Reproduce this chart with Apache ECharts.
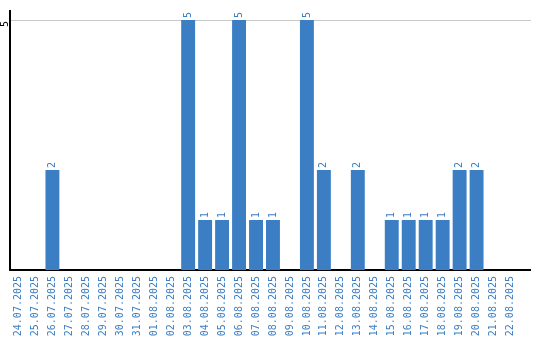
<!DOCTYPE html>
<html><head><meta charset="utf-8">
<script src="https://cdn.jsdelivr.net/npm/echarts@6/dist/echarts.min.js"></script>
<style>html,body{margin:0;padding:0;background:#fff}#c{width:540px;height:340px}</style>
</head><body><div id="c"></div>
<script>
const categories = ["24.07.2025","25.07.2025","26.07.2025","27.07.2025","28.07.2025","29.07.2025","30.07.2025","31.07.2025","01.08.2025","02.08.2025","03.08.2025","04.08.2025","05.08.2025","06.08.2025","07.08.2025","08.08.2025","09.08.2025","10.08.2025","11.08.2025","12.08.2025","13.08.2025","14.08.2025","15.08.2025","16.08.2025","17.08.2025","18.08.2025","19.08.2025","20.08.2025","21.08.2025","22.08.2025"];
const values = [0,0,2,0,0,0,0,0,0,0,5,1,1,5,1,1,0,5,2,0,2,0,1,1,1,1,2,2,0,0];
const yTicks = [0,5];

const blue = '#3b7ec4';
const chart = echarts.init(document.getElementById('c'));
chart.setOption({
  animation:false,
  grid:{left:9,top:20,width:510,height:250,containLabel:false},
  xAxis:{type:'category',data:categories,
    axisLine:{lineStyle:{color:'#000',width:2}},
    axisTick:{show:false},
    axisLabel:{rotate:90,interval:0,color:blue,fontFamily:'DejaVu Sans Mono',fontSize:10,margin:6}},
  yAxis:{type:'value',min:yTicks[0],max:yTicks[1],interval:5,
    axisLine:{show:true,lineStyle:{color:'#000',width:2}},
    axisTick:{show:false},
    splitLine:{lineStyle:{color:'#c8c8c8'}},
    axisLabel:{rotate:90,color:'#000',fontFamily:'DejaVu Sans Mono',fontSize:10,margin:5,
      align:'center',verticalAlign:'middle',padding:[0,8,0,0],
      formatter:v=>v===0?'':String(v)}},
  series:[{type:'bar',data:values,barCategoryGap:'18%',itemStyle:{color:blue},
    label:{show:true,position:'top',rotate:90,align:'left',verticalAlign:'middle',distance:2,
      color:blue,fontFamily:'DejaVu Sans Mono',fontSize:10,formatter:p=>p.value>0?String(p.value):''}}],
  graphic:[
    {type:'line',shape:{x1:519,y1:270,x2:531,y2:270},style:{stroke:'#000',lineWidth:2}},
    {type:'line',shape:{x1:519,y1:20.5,x2:531,y2:20.5},style:{stroke:'#c8c8c8',lineWidth:1}},
    {type:'line',shape:{x1:10,y1:10,x2:10,y2:21},style:{stroke:'#000',lineWidth:2}}
  ]
});
</script></body></html>
